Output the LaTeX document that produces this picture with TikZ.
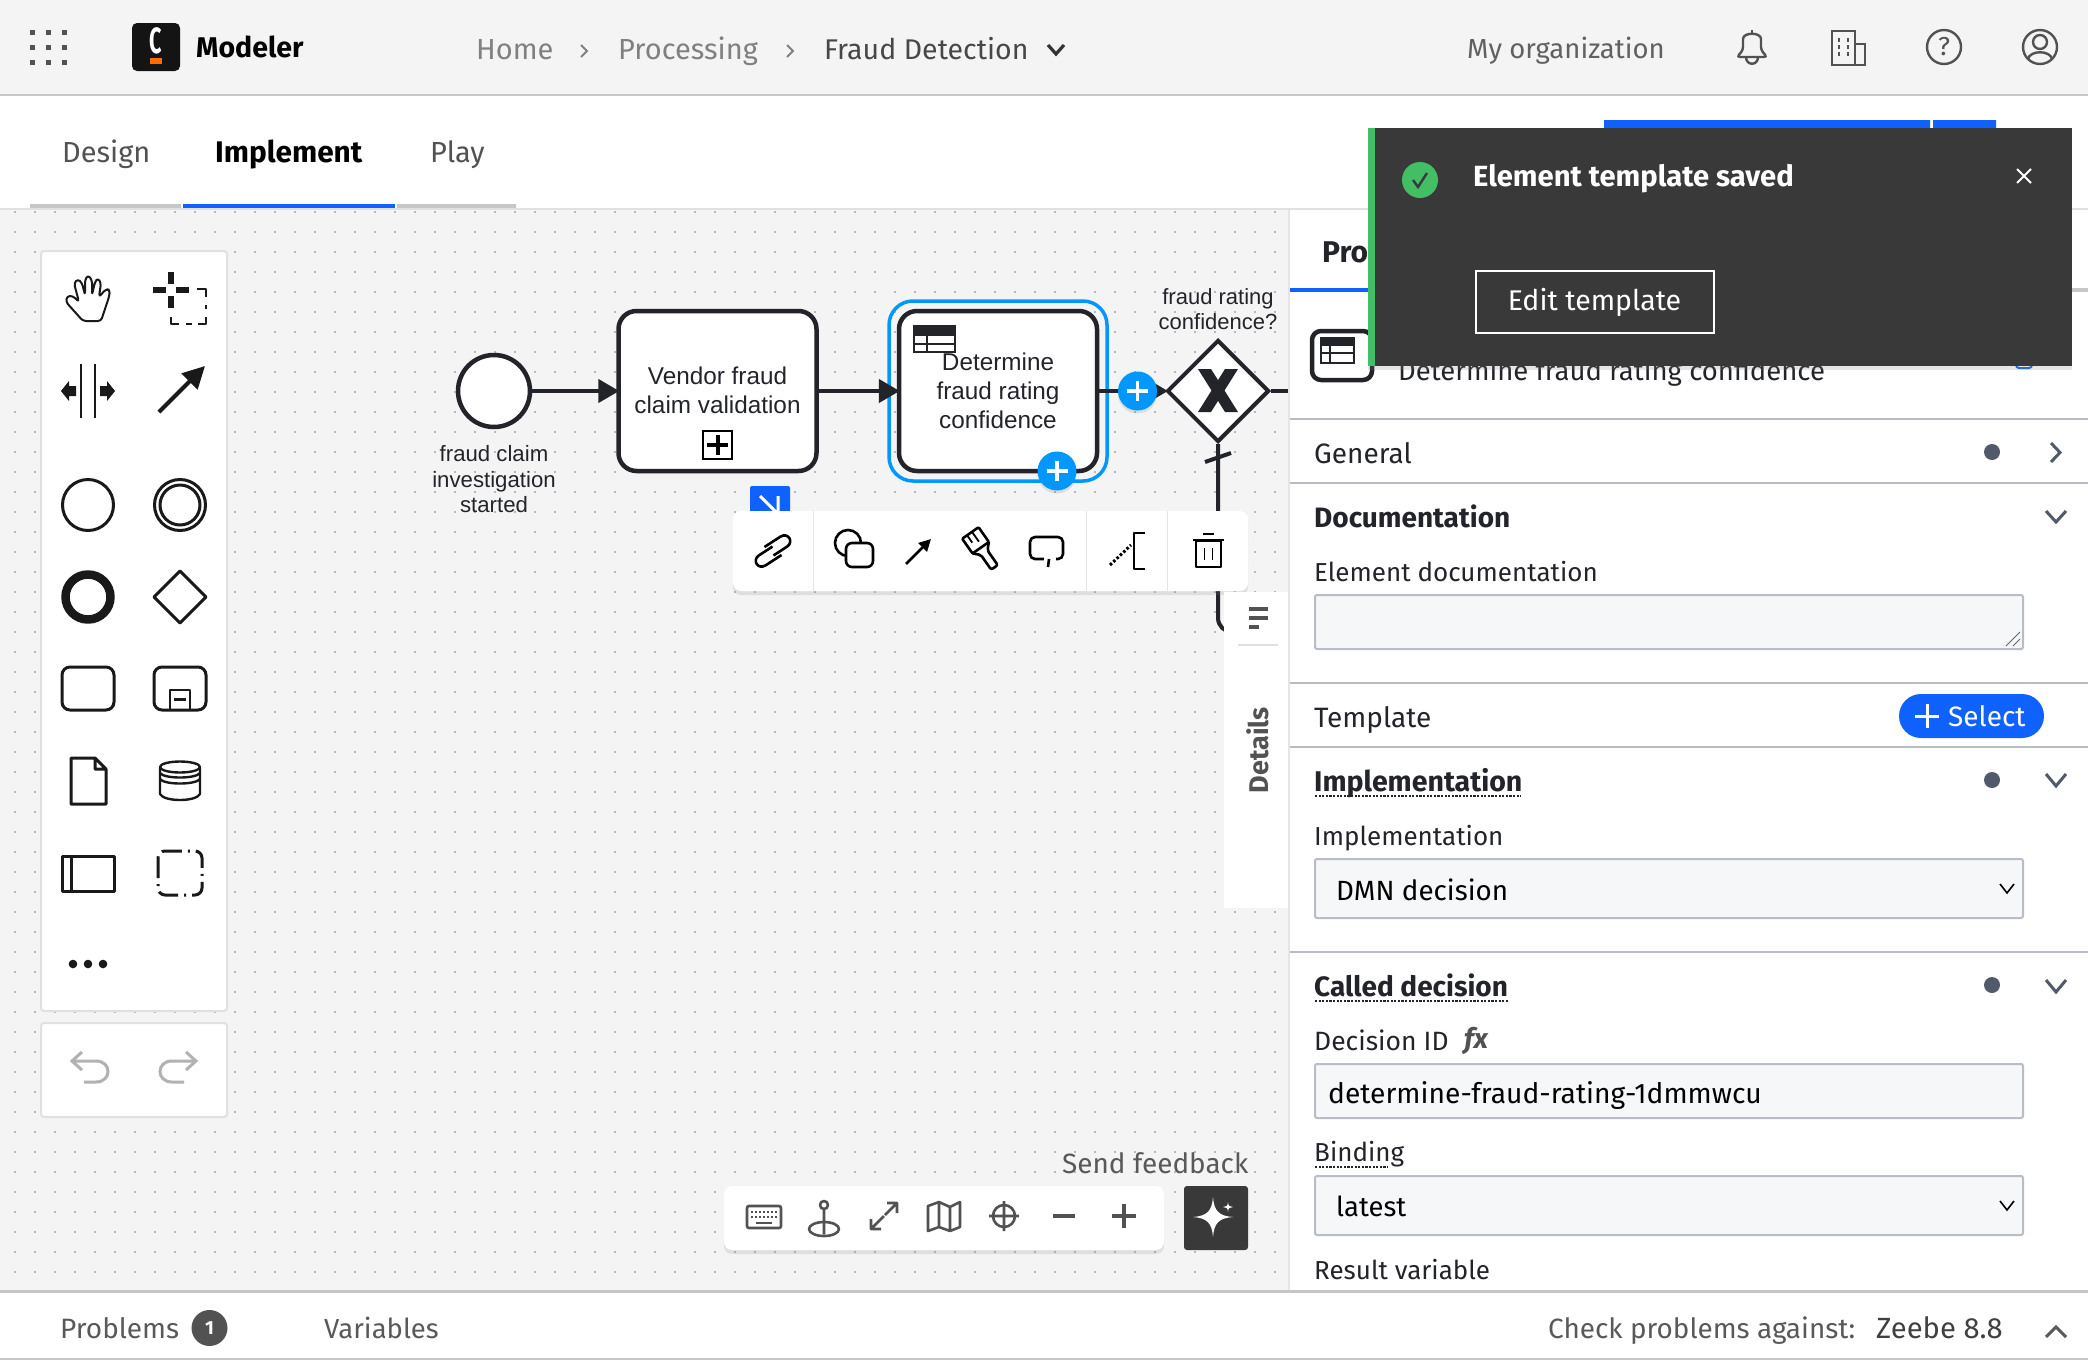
\documentclass[tikz,border=0pt]{standalone}
\usepackage{fontspec}
\setmainfont{Fira Sans}
\newfontfamily\bpmnfont{Liberation Sans}
\usetikzlibrary{positioning,arrows.meta,shapes.geometric,shadows}
\newcommand{\fsz}[1]{\fontsize{#1}{#1}\selectfont}
\definecolor{inkc}{HTML}{22242A}
\definecolor{barc}{HTML}{F4F4F4}
\definecolor{rulec}{HTML}{C6C6C6}
\definecolor{panelc}{HTML}{B9BCC6}
\definecolor{fieldc}{HTML}{F6F7F9}
\definecolor{bluec}{HTML}{0F62FE}
\definecolor{skyc}{HTML}{0098FF}
\definecolor{darkc}{HTML}{393939}
\definecolor{greenc}{HTML}{42BE65}
\definecolor{greyc}{HTML}{525252}
\definecolor{dotc}{HTML}{505A6B}
\tikzset{
  uitext/.style={anchor=mid west,inner sep=0pt,yshift=-7.5pt,text=#1,font=\fsz{26.5}},
  uitext/.default=black!85,
  navtext/.style={uitext=#1,font=\fsz{29}},
  headtext/.style={uitext=inkc,font=\fsz{28}\bfseries},
  bpmntext/.style={inner sep=0pt,align=center,text=inkc,font=\bpmnfont\fsz{22.2}},
  task/.style={draw=inkc,fill=white,line width=4.5pt,rounded corners=18pt,minimum width=198pt,minimum height=160pt,inner sep=0pt,align=center,text=inkc,font=\bpmnfont\fsz{24.3}},
  flow/.style={draw=inkc,line width=4.5pt,shorten >=-3pt,-{Triangle[length=21pt,width=23pt]}},
  seq/.style={draw=inkc,line width=4pt},
  addbtn/.style={circle,fill=skyc,minimum size=39pt,inner sep=0pt,drop shadow={opacity=.2,shadow xshift=0pt,shadow yshift=-3pt}},
  card/.style={draw=black!12,line width=2pt,fill=white,rounded corners=3pt},
  popcard/.style={fill=white,rounded corners=8pt,drop shadow={opacity=.18,shadow xshift=0pt,shadow yshift=-4pt}},
  field/.style={draw=panelc,line width=2pt,fill=fieldc,rounded corners=2pt},
  tool/.style={draw=black!90,line width=3pt,line join=round},
  mini/.style={draw=greyc,line width=2.6pt,line join=round},
  pad/.style={draw=black,line width=2.6pt,line join=round},
  chev/.style={draw=dotc,line width=3pt},
  hdricon/.style={draw=greyc,line width=2.4pt},
  dotunder/.style={draw=inkc,line width=2.4pt,dash pattern=on 2.2pt off 1.4pt},
  infodot/.style={circle,fill=dotc,minimum size=16pt,inner sep=0pt},
}
\begin{document}
\begin{tikzpicture}[x=1pt,y=-1pt]
\useasboundingbox (0,0) rectangle (2088,1360);
\clip (0,0) rectangle (2088,1360);
\fill[white] (0,0) rectangle (2088,1360);

% header
\fill[barc] (0,0) rectangle (2088,95);
\draw[rulec,line width=2.5pt] (0,95) -- (2088,95);
\foreach \x in {32,48,64} \foreach \y in {32,47,62} \fill[greyc] (\x-2.5,\y-2.5) rectangle +(5,5);
\node[fill=black!92,rounded corners=5pt,minimum width=48pt,minimum height=48pt,inner sep=0pt] (logo) at (156,47) {};
\node[inner sep=0pt,text=white,font=\fsz{27}\bfseries] (logoc) at (156,41) {\scalebox{.8}[1.35]{C}};
\fill[orange!85!red] (150,58) rectangle (162,64);
\node[navtext=black,font=\fsz{28.5}\bfseries] (modeler) at (196,47) {Modeler};
\node[navtext=black!50] (home) at (476,49) {Home};
\node[navtext=black!50] (processing) at (618,49) {Processing};
\node[navtext=black!72,font=\fsz{28.5}] (project) at (824,49) {Fraud Detection};
\draw[black!50,line width=1.8pt] (581,45) -- (587,51) -- (581,57);
\draw[black!50,line width=1.8pt] (787,45) -- (793,51) -- (787,57);
\draw[black!80,line width=3.2pt] (1048,45) -- (1056,54) -- (1064,45);
\node[navtext=black!62,font=\fsz{27.5}] (orga) at (1467,48) {My organization};
% bell
\draw[hdricon] (1752,30) -- (1752,35);
\draw[hdricon,rounded corners=3pt] (1737,57) -- (1743,50) -- (1743,42) .. controls (1743,32) and (1761,32) .. (1761,42) -- (1761,50) -- (1767,57) -- cycle;
\draw[hdricon] (1746,57) .. controls (1746,66) and (1758,66) .. (1758,57);
% building
\draw[hdricon] (1832,31) rectangle (1855,65) (1855,44) rectangle (1865,65);
\foreach \y in {38,45,52} \draw[hdricon,line width=1.8pt] (1839,\y) -- +(0,4) (1848,\y) -- +(0,4);
% help and user
\draw[hdricon] (1944,47) circle[radius=17pt];
\node[inner sep=0pt,text=greyc,font=\fsz{26}] (helpq) at (1944,47) {?};
\draw[hdricon] (2040,47) circle[radius=17pt] (2040,42) circle[radius=7pt];
\draw[hdricon] (2028,59) .. controls (2030,50) and (2050,50) .. (2052,59);

% tabs
\node[navtext=black!68] (tabdesign) at (62,152) {Design};
\node[navtext=black,font=\fsz{29.8}\bfseries] (tabimpl) at (215,152) {Implement};
\node[navtext=black!68] (tabplay) at (430,152) {Play};
\fill[rulec] (30,204) rectangle (181,208) (397,204) rectangle (516,208);
\fill[bluec] (183,204) rectangle (395,208);

% canvas
\fill[barc] (0,208) rectangle (1290,1290);
\foreach \x in {15,35,...,1275} \foreach \y in {212,232,...,1272} \fill[black!28] (\x-1,\y-1) rectangle +(2,2);
\draw[black!12,line width=2pt] (0,209) -- (2088,209);

% process
\node[circle,draw=inkc,fill=white,line width=4.5pt,minimum size=72pt,inner sep=0pt] (start) at (494,391) {};
\node[bpmntext,below=16pt of start] (startlabel) {fraud claim\\[3.5pt]investigation\\[3.5pt]started};
\node[task] (vendor) at (717.5,391) {\raisebox{1pt}{Vendor fraud}\\[4.5pt]\raisebox{1pt}{claim validation}};
\draw[black,line width=2pt,fill=white] (703,431) rectangle (732,459);
\draw[black,line width=4pt] (717.5,435) -- (717.5,455) (707,445) -- (728,445);
\node[draw=skyc,line width=3.5pt,rounded corners=24pt,minimum width=218pt,minimum height=180pt,inner sep=0pt] (focus) at (998,391) {};
\node[task] (rating) at (998,391) {Determine\\[4.5pt]fraud rating\\[4.5pt]confidence};
\draw[inkc,line width=1.8pt,fill=white] (914,326) rectangle (955,352) (914,344) -- (955,344) (927,336) -- (927,352);
\fill[inkc] (914,326) rectangle (955,336);
\node[diamond,aspect=1,draw=inkc,fill=white,line width=4pt,minimum size=102pt,inner sep=0pt] (gateway) at (1218,391) {};
\fill[inkc] (1198,369) -- (1211,369) -- (1238,412) -- (1225,412) -- cycle (1225,369) -- (1238,369) -- (1211,412) -- (1198,412) -- cycle;
\node[bpmntext,above=8pt of gateway,font=\bpmnfont\fsz{22}] (gatelabel) {fraud rating\\[3pt]confidence?};
\coordinate (gateout) at (1290,391);
\coordinate (gatedown) at (1240,632);
\draw[flow] (start) -- (vendor);
\draw[flow] (vendor) -- (rating);
\draw[flow] (rating) -- (gateway);
\draw[seq] (gateway) -- (gateout);
\draw[seq,rounded corners=14pt] (gateway) -- (1218,632) -- (gatedown);
\draw[inkc,line width=4pt] (1205,462) -- (1231,453);
\node[addbtn] (addflow) at (1137.5,391) {};
\node[addbtn] (addrating) at (1057,471) {};
\draw[white,line width=3.5pt] (1127,391) -- (1148,391) (1137.5,381) -- (1137.5,401);
\draw[white,line width=3.5pt] (1046.5,471) -- (1067.5,471) (1057,461) -- (1057,481);

% context pad
\fill[bluec,rounded corners=2pt] (750,486) rectangle (790,520);
\draw[white,line width=3pt] (760,496) -- (780,516) (778,496) -- (778,516);
\node[popcard,minimum width=515pt,minimum height=80pt,inner sep=0pt] (ctxpad) at (990.5,551) {};
\draw[black!10,line width=1pt] (813,511) -- (813,591) (1086.5,511) -- (1086.5,591) (1167,511) -- (1167,591);
\begin{scope}[shift={(773,551)},rotate=33]
  \draw[pad] (5,8) -- (-14,8) .. controls (-23,8) and (-23,-4) .. (-14,-4) -- (2,-4);
  \draw[pad] (-5,-8) -- (14,-8) .. controls (23,-8) and (23,4) .. (14,4) -- (-2,4);
\end{scope}
\draw[pad] (848,543) circle[radius=13pt];
\draw[pad,fill=white,rounded corners=6pt] (846,543) rectangle (873,567);
\draw[pad,-{Triangle[length=12pt,width=12pt]}] (906,564) -- (931,539);
\begin{scope}[shift={(983,551)},rotate=35]
  \draw[pad,rounded corners=1pt] (-10,-22) rectangle (10,-4);
  \draw[pad,rounded corners=2pt] (-10,-4) -- (-4,2) -- (-4,20) -- (4,20) -- (4,2) -- (10,-4);
  \draw[pad,line width=1.8pt] (-4,-22) -- (-4,-13) (2,-22) -- (2,-10);
\end{scope}
\draw[pad,rounded corners=5pt] (1030,537) rectangle (1063,559);
\fill[white] (1044,556) rectangle (1056,562);
\draw[pad] (1049,559) -- (1048,567);
\draw[pad,dotted,line width=3pt] (1110,565) -- (1131,545);
\draw[pad] (1145,533) -- (1134,533) -- (1134,569) -- (1145,569);
\draw[pad] (1196,541) rectangle (1221,567) (1193,540) -- (1224,540) (1203,534) -- (1214,534);
\draw[pad,line width=1.8pt] (1204.5,548) -- (1204.5,560) (1212.5,548) -- (1212.5,560);

% palette
\draw[card] (41,251) rectangle (227,1011);
\draw[card] (41,1023) rectangle (227,1117);
\draw[tool,line width=2pt,rounded corners=3pt] (83,321) -- (66,302) -- (67,296) -- (73,296) -- (79,302) -- (74,283) -- (78,279) -- (82,283) -- (85,295) -- (85,280) -- (88,275) -- (92,280) -- (92,295) -- (95,282) -- (98,278) -- (101,283) -- (99,297) -- (106,289) -- (110,290) -- (109,297) -- (101,321) -- cycle;
\draw[tool,line width=6pt] (171,272) -- (171,284) (171,296) -- (171,308) (153,290) -- (166,290) (176,290) -- (189,290);
\draw[tool,line width=2.6pt] (197,289) -- (206,289) -- (206,297) (206,305) -- (206,309) (206,317) -- (206,324) -- (198,324) (192,324) -- (186,324) (179,324) -- (171,324) -- (171,317);
\draw[tool,line width=2.6pt] (81,364) -- (81,418) (95,364) -- (95,418);
\fill[black!90] (61,391) -- (69,381) -- (69,386) -- (76,386) -- (76,396) -- (69,396) -- (69,401) -- cycle;
\fill[black!90] (115,391) -- (107,381) -- (107,386) -- (100,386) -- (100,396) -- (107,396) -- (107,401) -- cycle;
\draw[tool,line width=4pt,-{Triangle[length=22pt,width=22pt]}] (159,412) -- (205,366);
\draw[tool] (88,505) circle[radius=25.5pt];
\draw[tool] (180,505) circle[radius=25.5pt] (180,505) circle[radius=20pt];
\draw[tool,line width=8.5pt] (88,597) circle[radius=22.5pt];
\draw[tool] (180,571) -- (206,597) -- (180,623) -- (154,597) -- cycle;
\draw[tool,rounded corners=8pt] (62,667) rectangle (114,710);
\draw[tool,rounded corners=8pt] (154,667) rectangle (206,710);
\draw[tool,line width=2.2pt] (170,710) -- (170,690) -- (190,690) -- (190,710);
\draw[tool] (174,699) -- (186,699);
\draw[tool] (71,758) -- (95,758) -- (106,769) -- (106,804) -- (71,804) -- cycle (95,758) -- (95,769) -- (106,769);
\draw[tool,line width=2.4pt] (180,767) ellipse[x radius=20pt,y radius=5.5pt];
\draw[tool,line width=2.4pt] (160,767) -- (160,794) .. controls (164,802) and (196,802) .. (200,794) -- (200,767);
\draw[tool,line width=2.4pt] (160,773) .. controls (164,779) and (196,779) .. (200,773) (160,779) .. controls (164,785) and (196,785) .. (200,779);
\draw[tool] (62,856) rectangle (114,891) (71,856) -- (71,891);
\draw[tool,rounded corners=7pt,dash pattern=on 20pt off 6pt on 2pt off 6pt] (158,851) rectangle (202,895);
\foreach \x in {73,88,103} \fill[black!90] (\x,964) circle[radius=4.3pt];
\draw[black!30,line width=3pt] (82,1052) -- (72,1061) -- (82,1070) (72,1061) -- (96,1061) .. controls (112,1061) and (112,1082) .. (96,1082) -- (84,1082);
\draw[black!30,line width=3pt] (186,1052) -- (196,1061) -- (186,1070) (196,1061) -- (172,1061) .. controls (156,1061) and (156,1082) .. (172,1082) -- (184,1082);

% bottom tools
\node[uitext=black!65,font=\fsz{27.9}] (feedback) at (1062,1163) {Send feedback};
\node[popcard,minimum width=440pt,minimum height=64pt,inner sep=0pt] (navbar) at (944,1218) {};
\node[fill=darkc,rounded corners=3pt,minimum width=64pt,minimum height=64pt,inner sep=0pt] (aibtn) at (1216,1218) {};
\fill[white] (1213,1197) .. controls (1214,1211) and (1219,1216) .. (1233,1217) .. controls (1219,1218) and (1214,1223) .. (1213,1237) .. controls (1212,1223) and (1207,1218) .. (1193,1217) .. controls (1207,1216) and (1212,1211) .. (1213,1197) -- cycle;
\fill[white] (1228,1202) .. controls (1228,1206) and (1230,1207) .. (1233,1207) .. controls (1230,1207) and (1228,1208) .. (1228,1212) .. controls (1228,1208) and (1226,1207) .. (1223,1207) .. controls (1226,1207) and (1228,1206) .. (1228,1202) -- cycle;
\draw[mini,rounded corners=2pt] (747,1206) rectangle (781,1228);
\foreach \y in {1212,1217} \draw[greyc,line width=2.4pt,dash pattern=on 2.4pt off 1.6pt] (751,\y) -- (777,\y);
\draw[greyc,line width=2.4pt] (756,1223) -- (772,1223);
\draw[mini] (824,1205) circle[radius=4pt] (824,1209) -- (824,1234) (824,1229) ellipse[x radius=15pt,y radius=7pt];
\draw[mini] (871,1229) -- (884,1216) (871,1219) -- (871,1229) -- (881,1229) (885,1215) -- (897,1203) (887,1203) -- (897,1203) -- (897,1213);
\draw[mini] (928,1206) -- (939,1202) -- (950,1207) -- (960,1202) -- (960,1227) -- (950,1231) -- (939,1227) -- (928,1231) -- cycle (939,1202) -- (939,1227) (950,1207) -- (950,1231);
\draw[mini] (1004,1216) circle[radius=11pt] (1004,1201) -- (1004,1231) (989,1216) -- (1019,1216);
\draw[mini,line width=4pt] (1053,1216) -- (1075,1216) (1112,1216) -- (1136,1216) (1124,1204) -- (1124,1228);

% details tab
\fill[white] (1224,592) rectangle (1289,908);
\draw[greyc,line width=4.5pt] (1249,609) -- (1268,609) (1249,618) -- (1268,618) (1249,627) -- (1259,627);
\draw[black!12,line width=2pt] (1238,645) -- (1278,645);
\node[rotate=90,inner sep=0pt,text=greyc,font=\fsz{27}\bfseries] (detailstab) at (1258,750) {Details};

% properties panel
\fill[white] (1290,210) rectangle (2088,1290);
\draw[black!10,line width=2pt] (1289,210) -- (1289,1290);
\node[headtext,font=\fsz{30}\bfseries] (protab) at (1322,252) {Properties};
\fill[bluec] (1290,288) rectangle (1400,292);
\fill[rulec] (1400,288) rectangle (2088,292);
\draw[inkc,line width=4.5pt,rounded corners=9pt,fill=white] (1312,331) rectangle (1372,380);
\draw[inkc,line width=1.6pt,fill=white] (1321,338) rectangle (1354,363) (1321,353) -- (1354,353) (1330,346) -- (1330,363);
\fill[inkc] (1321,338) rectangle (1354,346);
\node[uitext=inkc,font=\fsz{27.5}] (elemname) at (1398,370) {Determine fraud rating confidence};
\draw[bluec,line width=2pt,rounded corners=3pt] (2016,355) rectangle (2032,368);
\foreach \y in {419,483,683,747,952} \draw[panelc,line width=2.5pt] (1290,\y) -- (2088,\y);
\node[uitext=inkc,font=\fsz{28}] (general) at (1314,453) {General};
\node[infodot] (dotgeneral) at (1992,452) {};
\draw[chev] (2051,443) -- (2060,452.5) -- (2051,462);
\node[headtext] (documentation) at (1314,517) {Documentation};
\draw[chev] (2046,511) -- (2056,522) -- (2066,511);
\node[uitext=inkc,font=\fsz{26}] (elemdoc) at (1314,571) {Element documentation};
\node[field,anchor=north west,minimum width=708pt,minimum height=54pt,inner sep=0pt] (docarea) at (1314,594) {};
\draw[black!60,line width=1pt] (2006,646) -- (2020,632) (2013,646) -- (2020,639);
\node[uitext=inkc,font=\fsz{28}] (template) at (1314,717) {Template};
\node[fill=bluec,rounded corners=22pt,minimum width=145pt,minimum height=44pt,inner sep=0pt] (selectbtn) at (1971.5,716) {};
\draw[white,line width=3pt] (1915,716) -- (1939,716) (1927,704) -- (1927,728);
\node[uitext=white,font=\fsz{28}] (selecttext) at (1948,716) {Select};
\node[headtext,font=\fsz{28.5}\bfseries] (implhead) at (1314,781) {Implementation};
\draw[dotunder] (1315,796) -- (1521,796);
\node[infodot] (dotimpl) at (1992,780) {};
\draw[chev] (2046,774) -- (2056,786) -- (2066,774);
\node[uitext=inkc,font=\fsz{26}] (impllabel) at (1314,835) {Implementation};
\node[field,anchor=north west,minimum width=708pt,minimum height=59pt,inner sep=0pt] (implselect) at (1314,858) {};
\node[uitext=black,font=\fsz{27.8}] (dmntext) at (1336,890) {DMN decision};
\draw[black,line width=1.6pt] (2000,884) -- (2007,893) -- (2014,884);
\node[headtext] (calledhead) at (1314,986) {Called decision};
\draw[dotunder] (1315,1001) -- (1508,1001);
\node[infodot] (dotcalled) at (1992,985) {};
\draw[chev] (2046,980) -- (2056,992) -- (2066,980);
\node[uitext=inkc] (decisionid) at (1314,1040) {Decision ID};
\node[inner sep=0pt,text=greyc,font=\fsz{28}\bfseries\itshape] (fxmark) at (1476,1041) {fx};
\node[field,anchor=north west,minimum width=708pt,minimum height=54pt,inner sep=0pt] (idinput) at (1314,1063) {};
\node[uitext=black,font=\fsz{28.2}] (idtext) at (1328,1093) {determine-fraud-rating-1dmmwcu};
\node[uitext=inkc,font=\fsz{26}] (binding) at (1314,1151) {Binding};
\draw[dotunder] (1315,1167) -- (1388,1167);
\node[field,anchor=north west,minimum width=708pt,minimum height=59pt,inner sep=0pt] (bindselect) at (1314,1175) {};
\node[uitext=black,font=\fsz{27.5}] (latesttext) at (1336,1206) {latest};
\draw[black,line width=1.6pt] (2000,1201) -- (2007,1210) -- (2014,1201);
\node[uitext=inkc,font=\fsz{26}] (resultvar) at (1314,1269) {Result variable};

% problems bar
\fill[white] (0,1292) rectangle (2088,1358);
\draw[rulec,line width=3pt] (0,1291) -- (2088,1291);
\draw[rulec,line width=2pt] (0,1359) -- (2088,1359);
\node[navtext=black!65,font=\fsz{28}] (problems) at (60,1328) {Problems};
\node[circle,fill=greyc,minimum size=36pt,inner sep=0pt,text=white,font=\fsz{19}\bfseries] (badge) at (209.5,1328) {1};
\node[navtext=black!65,font=\fsz{27.5}] (variables) at (324,1328) {Variables};
\node[navtext=black!65,font=\fsz{27.9}] (checkagainst) at (1548,1328) {Check problems against:};
\node[navtext=black!75,font=\fsz{29.2}] (zeebe) at (1876,1328) {Zeebe 8.8};
\draw[black!65,line width=3pt] (2046,1337) -- (2056,1327) -- (2066,1337);

% notification
\fill[bluec] (1604,120) rectangle (1930,130) (1933,120) rectangle (1996,130);
\node[anchor=north west,fill=darkc,minimum width=704pt,minimum height=238pt,inner sep=0pt,drop shadow={opacity=.2,shadow xshift=0pt,shadow yshift=-4pt}] (toast) at (1368,128) {};
\fill[greenc] (1368,128) rectangle (1375,366);
\node[circle,fill=greenc,minimum size=36pt,inner sep=0pt] (toastok) at (1420,180) {};
\draw[darkc,line width=2.4pt] (1413,180) -- (1418,187) -- (1427,173);
\node[uitext=white,font=\fsz{29.2}\bfseries] (toasttitle) at (1473,176) {Element template saved};
\draw[white,line width=2pt] (2017,169) -- (2031,183) (2031,169) -- (2017,183);
\node[draw=white,line width=2pt,minimum width=238pt,minimum height=62pt,inner sep=0pt,text=white,font=\fsz{28.5}] (toastedit) at (1594.5,302) {\raisebox{-8.5pt}[0pt][0pt]{Edit template}};
\end{tikzpicture}
\end{document}
